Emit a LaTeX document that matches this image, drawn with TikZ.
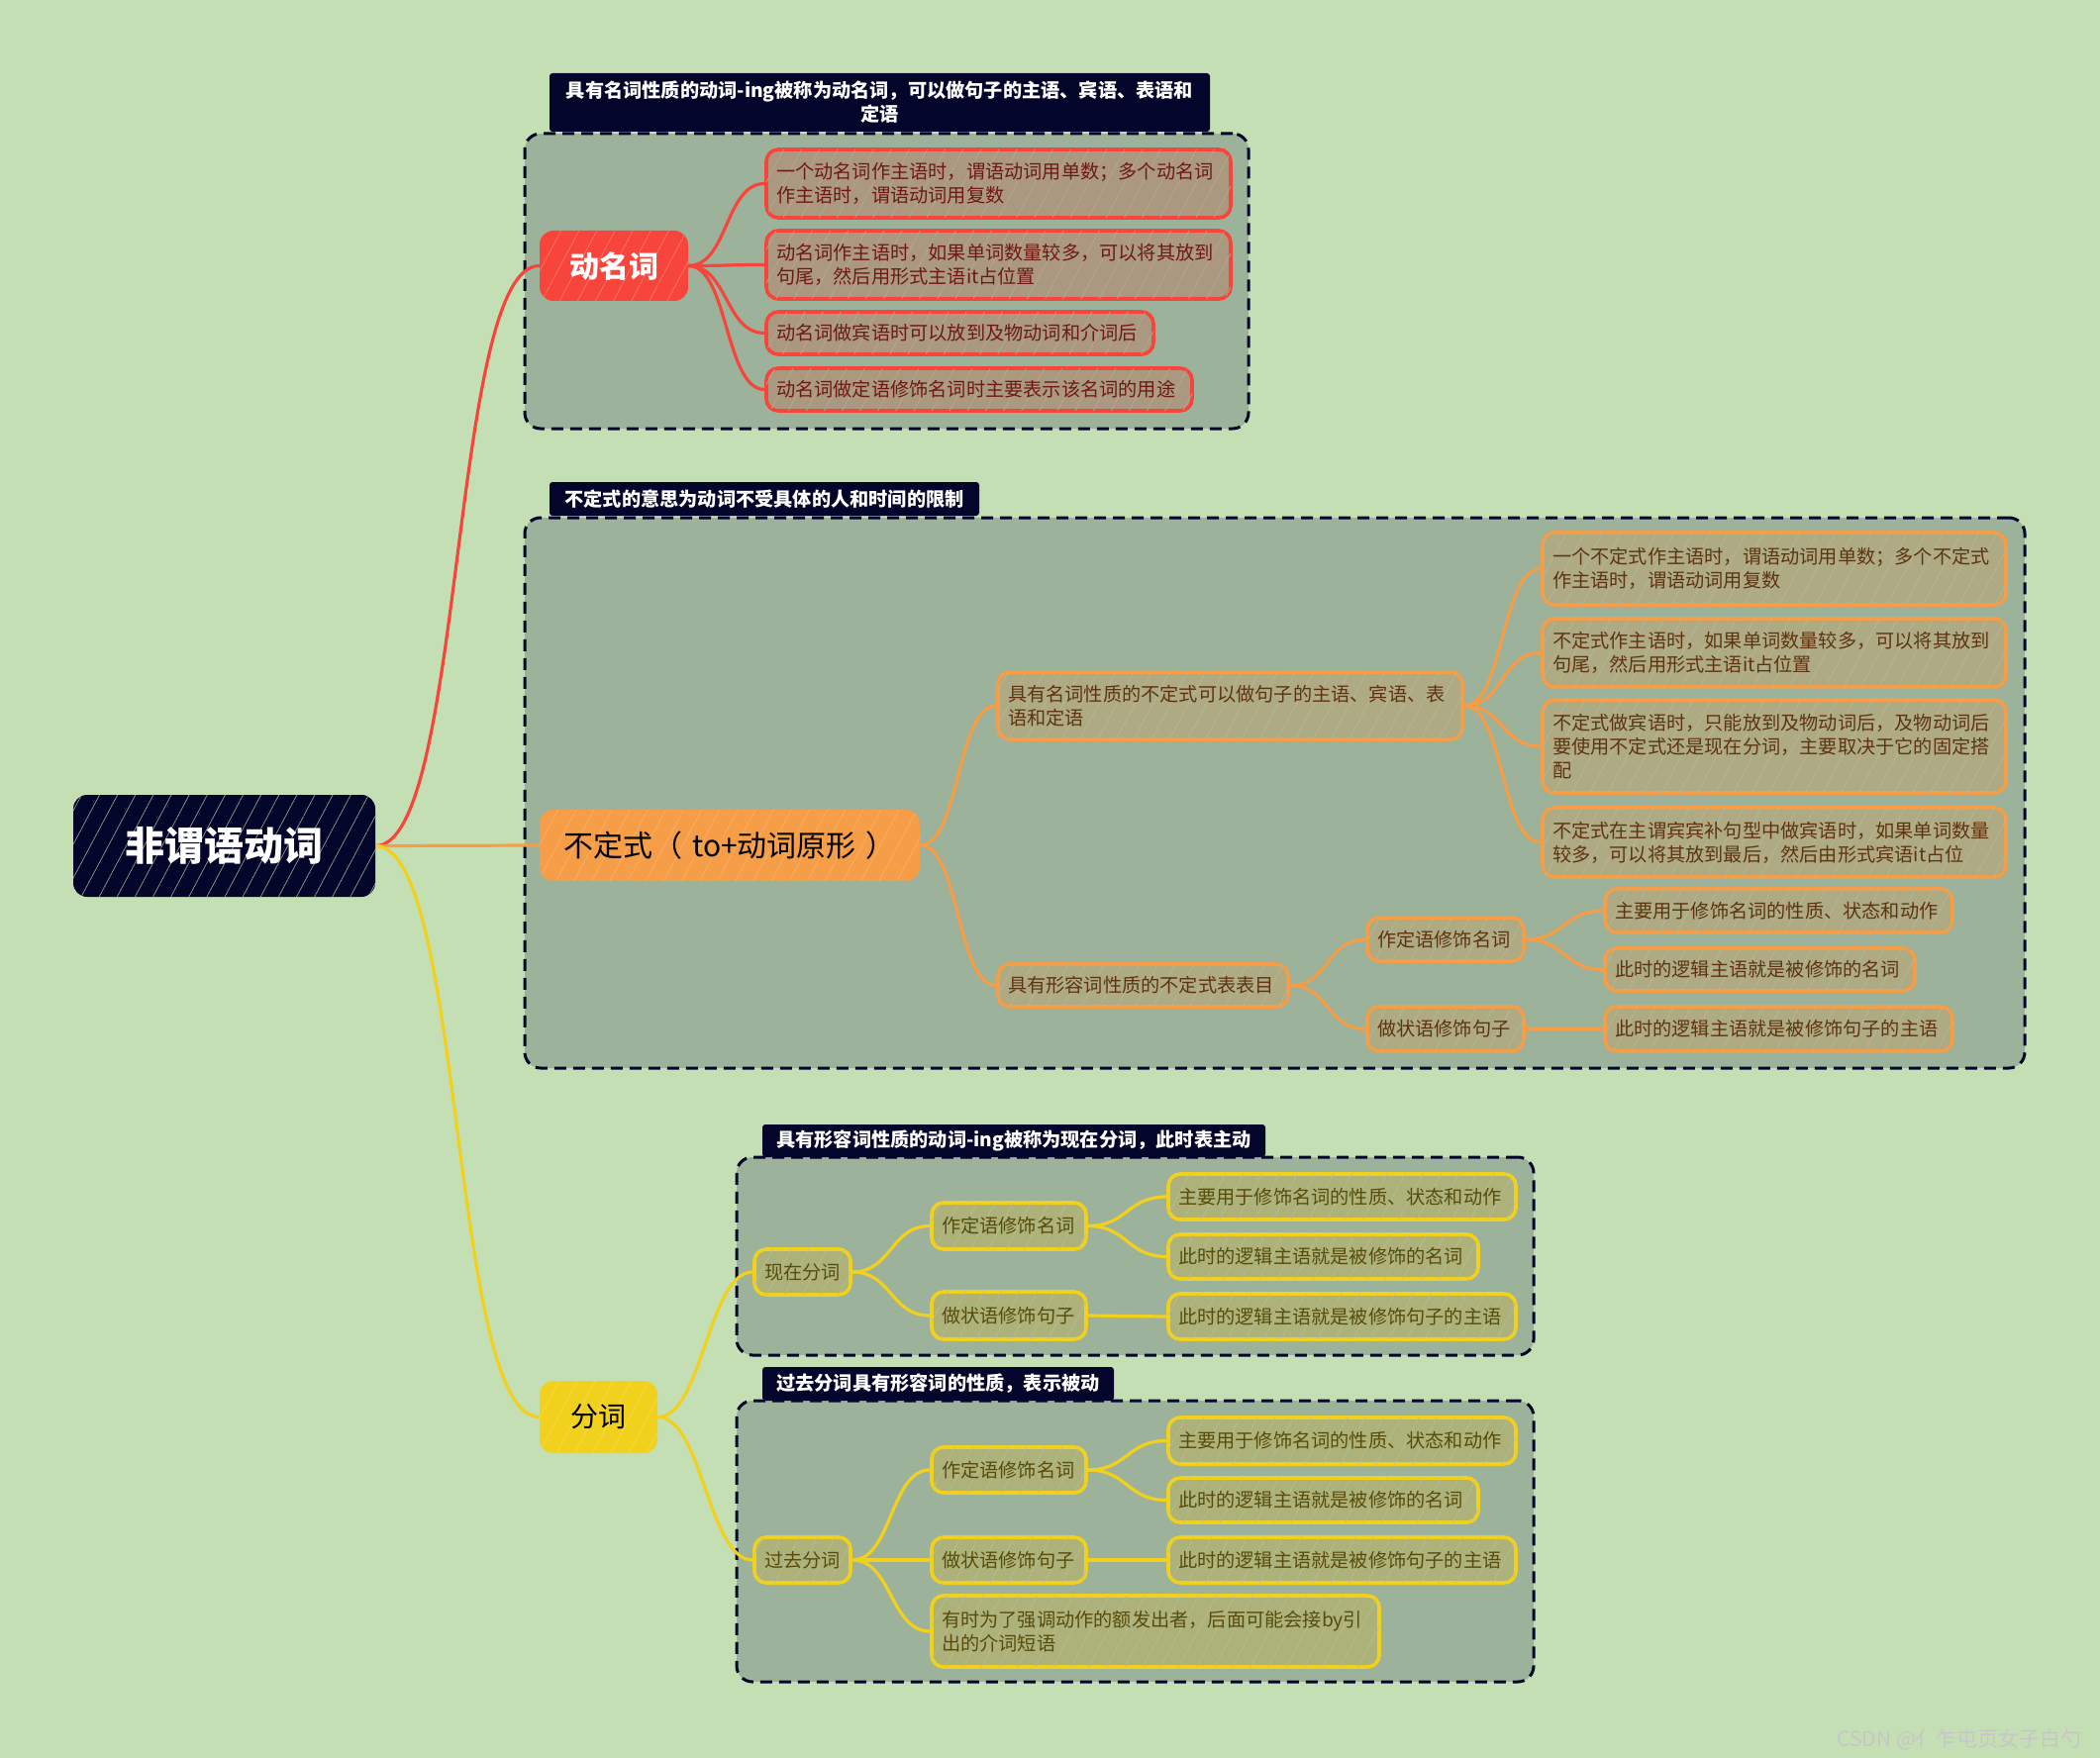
\documentclass[tikz,border=0pt]{standalone}
\usepackage{fontspec}
\newfontfamily\cjk{Noto Sans CJK SC}
\usetikzlibrary{patterns.meta}
\pgfdeclarelayer{back}\pgfdeclarelayer{conn}
\pgfsetlayers{back,conn,main}
\definecolor{bgc}{HTML}{C5DFB4}
\definecolor{panelc}{HTML}{9DB29A}
\definecolor{navy}{HTML}{03052A}
\definecolor{redm}{HTML}{F8453B}
\definecolor{redf}{HTML}{AA9880}
\definecolor{redt}{HTML}{6E1A12}
\definecolor{orm}{HTML}{F59D47}
\definecolor{orf}{HTML}{ADAA84}
\definecolor{ort}{HTML}{5E3410}
\definecolor{yem}{HTML}{F2D11E}
\definecolor{yef}{HTML}{ACB279}
\definecolor{yet}{HTML}{574C0C}
\newcommand\mynb[7]{%
  \pgfmathsetmacro\nbw{(#4-#2)/2}%
  \pgfmathsetmacro\nbh{(#5-#3)/2}%
  \pgfmathsetmacro\nbt{\nbw-10}%
  \node[#6, minimum width=\nbw pt, minimum height=\nbh pt, text width=\nbt pt] (#1) at ({(#2+#4)/2},{(#3+#5)/2}) {#7};}
\newcommand\mycn[4][]{\draw[#1] (#2.east) .. controls +(#4,0) and +(-#4,0) .. (#3.west);}
\tikzset{
  hatch/.style={postaction={pattern={Lines[angle=62,distance=8pt,line width=0.35pt]},pattern color=#1}},
  panel/.style={draw=navy, fill=panelc, line width=1.5pt, dash pattern=on 6pt off 3.5pt, rounded corners=8pt, inner sep=0pt},
  lbl/.style={fill=navy, text=white, font=\cjk\bfseries\fontsize{9.6}{12}\selectfont, align=center, inner xsep=5pt, inner ysep=1pt, rounded corners=1.5pt},
  kid/.style={line width=1.8pt, rounded corners=6pt, align=left, inner xsep=5pt, inner ysep=2pt, font=\cjk\fontsize{9.6}{12}\selectfont},
  redk/.style={kid, draw=redm, fill=redf, text=redt, hatch=redf!85!white},
  ork/.style={kid, draw=orm, fill=orf, text=ort, hatch=orf!85!white},
  yek/.style={kid, draw=yem, fill=yef, text=yet, hatch=yef!85!white},
  rootn/.style={fill=navy, text=white, rounded corners=7pt, align=center, inner xsep=5pt, font=\cjk\bfseries\fontsize{20}{24}\selectfont, hatch=bgc!70!navy},
  mainr/.style={fill=redm, text=white, rounded corners=7pt, align=center, inner xsep=5pt, font=\cjk\bfseries\fontsize{15}{18}\selectfont, hatch=redm!75!white},
  maino/.style={fill=orm, text=black, rounded corners=7pt, align=center, inner xsep=5pt, font=\cjk\fontsize{15}{18}\selectfont, hatch=orm!80!white},
  mainy/.style={fill=yem, text=black, rounded corners=7pt, align=center, inner xsep=5pt, font=\cjk\fontsize{14}{17}\selectfont, hatch=yem!80!white},
  bred/.style={draw=redm, line width=1.6pt, line cap=round},
  bor/.style={draw=orm, line width=1.6pt, line cap=round},
  bye/.style={draw=yem, line width=1.6pt, line cap=round}
}
\begin{document}
\begin{tikzpicture}[x=0.5pt,y=-0.5pt]
\useasboundingbox (0,0) rectangle (2121,1776);
\begin{pgfonlayer}{back}
\fill[bgc] (0,0) rectangle (2121,1776);
\mynb{p1}{530}{135}{1261}{433}{panel}{}
\mynb{p2}{530}{523}{2045}{1079}{panel}{}
\mynb{p3}{744}{1169}{1549}{1369}{panel}{}
\mynb{p4}{744}{1415}{1549}{1699}{panel}{}
\mynb{l1}{555}{74}{1222}{133}{lbl}{具有名词性质的动词-ing被称为动名词，可以做句子的主语、宾语、表语和\\定语}
\mynb{l2}{555}{487}{989}{521}{lbl}{不定式的意思为动词不受具体的人和时间的限制}
\mynb{l3}{770}{1136}{1278}{1169}{lbl}{具有形容词性质的动词-ing被称为现在分词，此时表主动}
\mynb{l4}{770}{1381}{1125}{1415}{lbl}{过去分词具有形容词的性质，表示被动}
\end{pgfonlayer}
% main nodes
\mynb{root}{74}{803}{379}{906}{rootn}{非谓语动词}
\mynb{dmc}{545}{233}{695}{304}{mainr}{动名词}
\mynb{bds}{545}{818}{929}{890}{maino}{不定式（ to+动词原形 ）}
\mynb{fc}{545}{1395}{664}{1468}{mainy}{分词}
% red
\mynb{r1}{774}{151}{1243}{220}{redk}{一个动名词作主语时，谓语动词用单数；多个动名词\\作主语时，谓语动词用复数}
\mynb{r2}{774}{233}{1243}{302}{redk}{动名词作主语时，如果单词数量较多，可以将其放到\\句尾，然后用形式主语it占位置}
\mynb{r3}{774}{315}{1165}{358}{redk}{动名词做宾语时可以放到及物动词和介词后}
\mynb{r4}{774}{372}{1204}{415}{redk}{动名词做定语修饰名词时主要表示该名词的用途}
% orange
\mynb{oa}{1008}{679}{1477}{747}{ork}{具有名词性质的不定式可以做句子的主语、宾语、表\\语和定语}
\mynb{ob}{1008}{974}{1301}{1017}{ork}{具有形容词性质的不定式表表目}
\mynb{oa1}{1558}{538}{2026}{611}{ork}{一个不定式作主语时，谓语动词用单数；多个不定式\\作主语时，谓语动词用复数}
\mynb{oa2}{1558}{625}{2026}{694}{ork}{不定式作主语时，如果单词数量较多，可以将其放到\\句尾，然后用形式主语it占位置}
\mynb{oa3}{1558}{707}{2026}{801}{ork}{不定式做宾语时，只能放到及物动词后，及物动词后\\要使用不定式还是现在分词，主要取决于它的固定搭\\配}
\mynb{oa4}{1558}{816}{2026}{886}{ork}{不定式在主谓宾宾补句型中做宾语时，如果单词数量\\较多，可以将其放到最后，然后由形式宾语it占位}
\mynb{ob1}{1381}{927}{1539}{971}{ork}{作定语修饰名词}
\mynb{ob2}{1381}{1017}{1539}{1062}{ork}{做状语修饰句子}
\mynb{ob11}{1621}{898}{1972}{942}{ork}{主要用于修饰名词的性质、状态和动作}
\mynb{ob12}{1621}{958}{1934}{1001}{ork}{此时的逻辑主语就是被修饰的名词}
\mynb{ob21}{1621}{1017}{1972}{1062}{ork}{此时的逻辑主语就是被修饰句子的主语}
% yellow
\mynb{ya}{762}{1262}{859}{1308}{yek}{现在分词}
\mynb{ya1}{941}{1215}{1097}{1262}{yek}{作定语修饰名词}
\mynb{ya2}{941}{1305}{1097}{1353}{yek}{做状语修饰句子}
\mynb{ya11}{1180}{1186}{1531}{1232}{yek}{主要用于修饰名词的性质、状态和动作}
\mynb{ya12}{1180}{1247}{1493}{1292}{yek}{此时的逻辑主语就是被修饰的名词}
\mynb{ya21}{1180}{1307}{1531}{1353}{yek}{此时的逻辑主语就是被修饰句子的主语}
\mynb{yb}{762}{1553}{859}{1599}{yek}{过去分词}
\mynb{yb1}{941}{1462}{1097}{1508}{yek}{作定语修饰名词}
\mynb{yb2}{941}{1553}{1097}{1599}{yek}{做状语修饰句子}
\mynb{yb3}{941}{1612}{1393}{1684}{yek}{有时为了强调动作的额发出者，后面可能会接by引\\出的介词短语}
\mynb{yb11}{1180}{1432}{1531}{1479}{yek}{主要用于修饰名词的性质、状态和动作}
\mynb{yb12}{1180}{1493}{1493}{1538}{yek}{此时的逻辑主语就是被修饰的名词}
\mynb{yb21}{1180}{1553}{1531}{1599}{yek}{此时的逻辑主语就是被修饰句子的主语}
\node[font=\cjk\fontsize{10.5}{12}\selectfont, text=white!55!gray, anchor=east] (wm) at (2110,1757) {CSDN @亻乍屯页女子白勺};
% connectors
\begin{pgfonlayer}{conn}
\mycn[bred]{root}{dmc}{90}
\draw[bor] (root.east) -- (bds.west);
\mycn[bye]{root}{fc}{90}
\mycn[bred]{dmc}{r1}{40}
\mycn[bred]{dmc}{r2}{40}
\mycn[bred]{dmc}{r3}{40}
\mycn[bred]{dmc}{r4}{40}
\mycn[bor]{bds}{oa}{40}
\mycn[bor]{bds}{ob}{40}
\mycn[bor]{oa}{oa1}{40}
\mycn[bor]{oa}{oa2}{40}
\mycn[bor]{oa}{oa3}{40}
\mycn[bor]{oa}{oa4}{40}
\mycn[bor]{ob}{ob1}{40}
\mycn[bor]{ob}{ob2}{40}
\mycn[bor]{ob1}{ob11}{40}
\mycn[bor]{ob1}{ob12}{40}
\mycn[bor]{ob2}{ob21}{40}
\mycn[bye]{fc}{ya}{45}
\mycn[bye]{fc}{yb}{45}
\mycn[bye]{ya}{ya1}{40}
\mycn[bye]{ya}{ya2}{40}
\mycn[bye]{ya1}{ya11}{40}
\mycn[bye]{ya1}{ya12}{40}
\mycn[bye]{ya2}{ya21}{40}
\mycn[bye]{yb}{yb1}{40}
\mycn[bye]{yb}{yb2}{40}
\mycn[bye]{yb}{yb3}{40}
\mycn[bye]{yb1}{yb11}{40}
\mycn[bye]{yb1}{yb12}{40}
\mycn[bye]{yb2}{yb21}{40}
\end{pgfonlayer}
\end{tikzpicture}
\end{document}
